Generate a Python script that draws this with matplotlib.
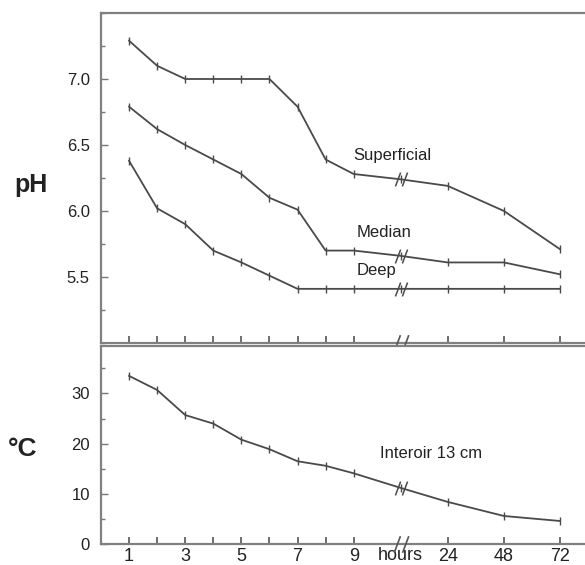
import matplotlib
matplotlib.use('Agg')
import matplotlib.pyplot as plt
from matplotlib.path import Path
from matplotlib.ticker import MultipleLocator

plt.rcParams['font.family'] = ['Liberation Sans', 'DejaVu Sans']

# time axis: 1..9 h, a break point, then 24, 48, 72 h (compressed positions)
xpos = [1, 2, 3, 4, 5, 6, 7, 8, 9, 10.67, 12.35, 14.35, 16.35]
tick_pos = [1, 2, 3, 4, 5, 6, 7, 8, 9, 12.35, 14.35, 16.35]
tick_lbl = ['1', '', '3', '', '5', '', '7', '', '9', '24', '48', '72']
brk = 10.67

ph_superficial = [7.29, 7.10, 7.00, 7.00, 7.00, 7.00, 6.79, 6.39, 6.28, 6.24, 6.19, 6.00, 5.71]
ph_median = [6.79, 6.62, 6.50, 6.39, 6.28, 6.10, 6.01, 5.70, 5.70, 5.66, 5.61, 5.61, 5.52]
ph_deep = [6.38, 6.02, 5.90, 5.70, 5.61, 5.51, 5.41, 5.41, 5.41, 5.41, 5.41, 5.41, 5.41]
temp_13cm = [33.5, 30.7, 25.7, 24.0, 20.8, 18.9, 16.5, 15.6, 14.1, 11.2, 8.4, 5.6, 4.6]

line_c = '#4a4a4a'
spine_c = '#808080'

# "//" break glyph
slash = Path([(-1.4, -1.6), (-0.2, 1.6), (0.2, -1.6), (1.4, 1.6)],
             [Path.MOVETO, Path.LINETO, Path.MOVETO, Path.LINETO])

fig = plt.figure(figsize=(5.85, 5.65), dpi=100)
ax1 = fig.add_axes([0.1726, 0.393, 0.84, 0.584])
ax2 = fig.add_axes([0.1726, 0.037, 0.84, 0.351])


def style(ax):
    ax.spines['right'].set_visible(False)
    for s in ['left', 'top', 'bottom']:
        ax.spines[s].set_color(spine_c)
        ax.spines[s].set_linewidth(1.6)
    ax.set_xlim(0, 17.5)
    ax.set_xticks(tick_pos)
    ax.tick_params(axis='x', direction='in', length=5, width=1.2, color='#555555')
    ax.tick_params(axis='y', which='both', direction='in', width=1, color='#777777')
    ax.tick_params(axis='y', which='major', length=5, labelsize=12, pad=8, labelcolor='#222222')
    ax.tick_params(axis='y', which='minor', length=3)
    ax.plot([brk], [0], transform=ax.get_xaxis_transform(), marker=slash,
            markersize=12, color='#555555', mew=1.2, clip_on=False, zorder=5)


style(ax1)
style(ax2)

for vals in [ph_superficial, ph_median, ph_deep]:
    ax1.plot(xpos, vals, color=line_c, lw=1.3, marker='|', ms=6, mew=1)
    ax1.plot([brk], [vals[9]], marker=slash, ms=10, color=line_c, mew=1.1, ls='none')
ax1.set_ylim(5.0, 7.5)
ax1.set_yticks([5.5, 6.0, 6.5, 7.0])
ax1.set_yticklabels(['5.5', '6.0', '6.5', '7.0'])
ax1.yaxis.set_minor_locator(MultipleLocator(0.25))
ax1.set_xticklabels([])
ax1.text(-0.142, 0.48, 'pH', transform=ax1.transAxes, fontsize=18, fontweight='bold',
         ha='center', va='center', color='#222222')
ax1.text(9.0, 6.42, 'Superficial', fontsize=12, color='#222222', va='center')
ax1.text(9.1, 5.84, 'Median', fontsize=12, color='#222222', va='center')
ax1.text(9.1, 5.55, 'Deep', fontsize=12, color='#222222', va='center')

ax2.plot(xpos, temp_13cm, color=line_c, lw=1.3, marker='|', ms=6, mew=1)
ax2.plot([brk], [temp_13cm[9]], marker=slash, ms=10, color=line_c, mew=1.1, ls='none')
ax2.set_ylim(0, 39.5)
ax2.set_yticks([0, 10, 20, 30])
ax2.yaxis.set_minor_locator(MultipleLocator(5))
ax2.set_xticklabels(tick_lbl, fontsize=13, color='#222222')
ax2.tick_params(axis='x', pad=3)
ax2.text(brk, -0.058, 'hours', transform=ax2.get_xaxis_transform(), fontsize=13,
         ha='center', va='center', color='#222222')
ax2.text(-0.16, 0.48, '°C', transform=ax2.transAxes, fontsize=19, fontweight='bold',
         ha='center', va='center', color='#222222')
ax2.text(9.95, 18.0, 'Interoir 13 cm', fontsize=12, color='#222222', va='center')

fig.savefig('out.png', dpi=100)
